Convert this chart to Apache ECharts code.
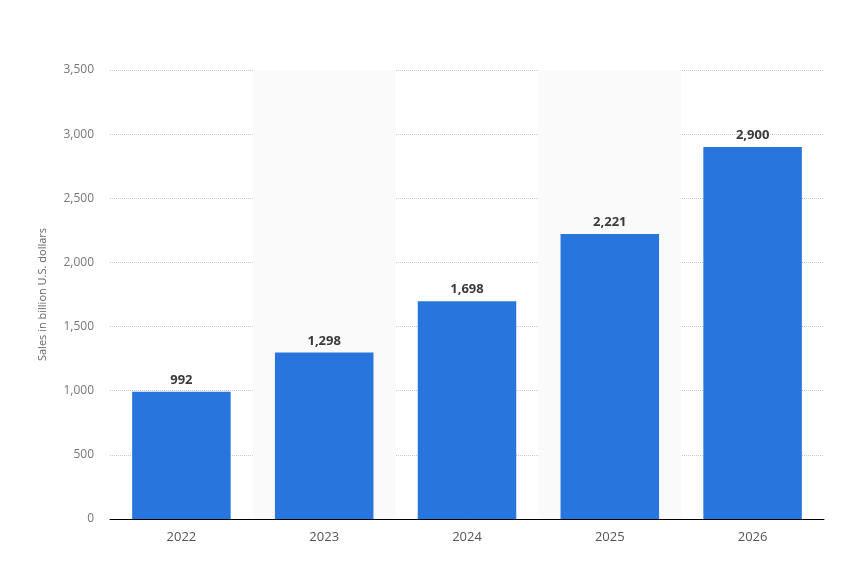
<!DOCTYPE html>
<html>
<head>
<meta charset="utf-8">
<script src="https://cdn.jsdelivr.net/npm/echarts@6/dist/echarts.min.js"></script>
<style>
  html, body { margin: 0; padding: 0; background: #fff; }
  #chart { width: 864px; height: 586px; }
</style>
</head>
<body>
<div id="chart"></div>
<script>
const years = ["2022", "2023", "2024", "2025", "2026"]
const sales = [992, 1298, 1698, 2221, 2900]

const chart = echarts.init(document.getElementById("chart"))
chart.setOption({
  animation: false,
  textStyle: { fontFamily: "Open Sans" },
  grid: { left: 110, right: 40, top: 70, bottom: 67 },
  xAxis: {
    type: "category",
    data: years,
    axisLine: { lineStyle: { color: "#000", width: 1 } },
    axisTick: { show: false },
    axisLabel: { color: "#555", fontSize: 13, margin: 12 },
    splitArea: {
      show: true,
      areaStyle: { color: ["rgba(255,255,255,0)", "#fafafa"] }
    }
  },
  yAxis: {
    type: "value",
    min: 0,
    max: 3500,
    interval: 500,
    name: "Sales in billion U.S. dollars",
    nameLocation: "middle",
    nameGap: 62,
    nameTextStyle: { color: "#666", fontSize: 11 },
    axisLine: { show: false },
    axisTick: { show: false },
    axisLabel: {
      color: "#777",
      fontSize: 12,
      margin: 16,
      formatter: v => v.toLocaleString("en-US")
    },
    splitLine: { lineStyle: { color: "#c8c8c8", type: "dotted" } }
  },
  series: [
    {
      type: "bar",
      data: sales,
      barWidth: "69%",
      itemStyle: { color: "#2876dd" },
      label: {
        show: true,
        position: "top",
        distance: 5,
        color: "#3a3a3a",
        fontSize: 13,
        fontWeight: "bold",
        formatter: p => p.value.toLocaleString("en-US")
      }
    }
  ]
})
</script>
</body>
</html>
